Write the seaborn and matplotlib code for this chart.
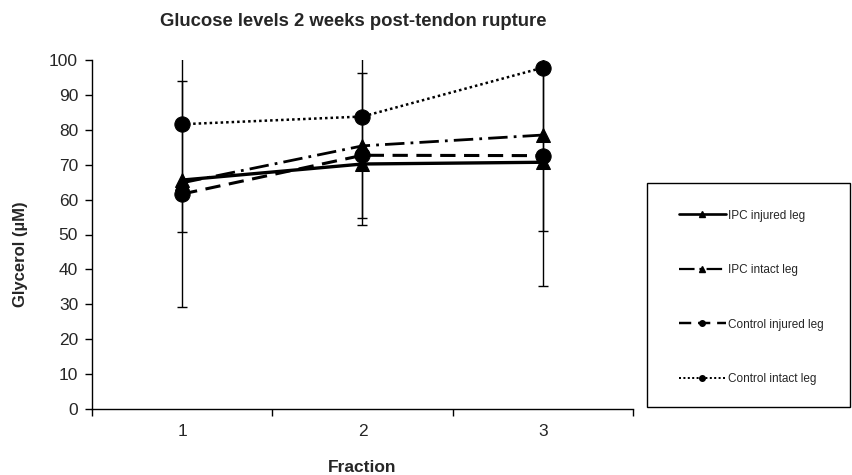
import matplotlib
matplotlib.use("Agg")
import matplotlib.pyplot as plt
from matplotlib.lines import Line2D
from matplotlib.patches import Rectangle
import numpy as np
import pandas as pd
import seaborn as sns

# values
FRACTIONS = [1, 2, 3]
SERIES_NAMES = ["IPC injured leg", "IPC intact leg", "Control injured leg", "Control intact leg"]
IPC_INJURED = [65.6, 70.2, 70.7]
IPC_INTACT = [64.8, 75.4, 78.5]
CONTROL_INJURED = [61.6, 72.7, 72.6]
CONTROL_INTACT = [81.6, 83.8, 97.8]
IPC_INJURED_ERR = [0, 0, 0]
IPC_INTACT_ERR = [0, 20.8, 27.4]
CONTROL_INJURED_ERR = [32.4, 0, 37.3]
CONTROL_INTACT_ERR = [30.9, 31.1, 0]
Y_TICKS = [0, 10, 20, 30, 40, 50, 60, 70, 80, 90, 100]

VALUES = [IPC_INJURED, IPC_INTACT, CONTROL_INJURED, CONTROL_INTACT]
ERRORS = [IPC_INJURED_ERR, IPC_INTACT_ERR, CONTROL_INJURED_ERR, CONTROL_INTACT_ERR]

STYLES = {
    "IPC injured leg": dict(ls="-", lw=2.4, marker="^", ms=10),
    "IPC intact leg": dict(ls=(0, (7, 2.2, 1, 2.2)), lw=2.0, marker="^", ms=10),
    "Control injured leg": dict(ls=(0, (5, 2.8)), lw=2.2, marker="o", ms=11),
    "Control intact leg": dict(ls=(0, (1, 1.2)), lw=1.8, marker="o", ms=11),
}


def main() -> None:
    sns.set_theme(style="white")
    plt.rcParams["font.family"] = ["Liberation Sans", "DejaVu Sans"]

    df = pd.DataFrame(
        {
            "fraction": np.tile(FRACTIONS, len(SERIES_NAMES)),
            "glycerol": np.concatenate(VALUES),
            "err": np.concatenate(ERRORS),
            "series": np.repeat(SERIES_NAMES, len(FRACTIONS)),
        }
    )

    fig = plt.figure(figsize=(8.53, 4.75), dpi=100)
    ax = fig.add_axes([92 / 853, 1 - 409 / 475, (633 - 92) / 853, (409 - 60) / 475])

    for name in SERIES_NAMES:
        sub = df[df["series"] == name]
        st = STYLES[name]
        has_err = sub[sub["err"] > 0]
        if len(has_err):
            ax.errorbar(
                has_err["fraction"], has_err["glycerol"], yerr=has_err["err"],
                fmt="none", ecolor="black", elinewidth=1.0, capsize=3.5, capthick=1.0, zorder=2,
            )
        sns.lineplot(
            data=sub, x="fraction", y="glycerol", ax=ax, color="black",
            linestyle=st["ls"], linewidth=st["lw"], marker=st["marker"], markersize=st["ms"],
            markeredgecolor="black", markerfacecolor="black", legend=False, zorder=3,
        )

    ax.set_xlim(0.5, 3.5)
    ax.set_ylim(0, 100)
    ax.set_yticks(Y_TICKS)
    ax.set_xticks(FRACTIONS)
    ax.set_xticks([0.5, 1.5, 2.5, 3.5], minor=True)
    ax.tick_params(axis="x", which="major", length=0, labelsize=12.5, pad=11)
    ax.tick_params(axis="x", which="minor", length=5, width=1, direction="out", color="black", bottom=True)
    ax.tick_params(axis="y", length=5, width=1, direction="out", color="black", labelsize=12.5, left=True, pad=5)
    for side in ["top", "right"]:
        ax.spines[side].set_visible(False)
    for side in ["left", "bottom"]:
        ax.spines[side].set_color("black")
        ax.spines[side].set_linewidth(1.0)
    ax.set_xlabel("Fraction", fontsize=12.5, fontweight="bold")
    ax.set_ylabel("Glycerol (\u00b5M)", fontsize=12, fontweight="bold")
    ax.xaxis.set_label_coords(0.5, (409 - 468) / 349, transform=ax.transAxes)
    ax.yaxis.set_label_coords((21 - 92) / 541, (409 - 254) / 349, transform=ax.transAxes)
    ax.xaxis.label.set_va("center")
    ax.yaxis.label.set_va("center")
    ax.grid(False)

    fig.text(353 / 853, 1 - 22 / 475, "Glucose levels 2 weeks post-tendon rupture",
             ha="center", va="center", fontsize=13.3, fontweight="bold")

    # legend box
    fig.patches.append(Rectangle((647 / 853, 1 - 407 / 475), (850 - 647) / 853, (407 - 183) / 475,
                                 transform=fig.transFigure, fill=False, edgecolor="black", linewidth=1.0))
    handles = []
    for name in SERIES_NAMES:
        st = STYLES[name]
        handles.append(Line2D([0], [0], color="black", linestyle=st["ls"], linewidth=st["lw"] * 0.8,
                              marker=st["marker"], markersize=4))
    fig.legend(handles, SERIES_NAMES, loc="upper left", bbox_to_anchor=(668 / 853, 1 - 199 / 475),
               frameon=False, fontsize=8.5, handlelength=4.0, handletextpad=0.2, labelspacing=3.6)

    fig.savefig("out.png", dpi=100)
    plt.close(fig)


if __name__ == "__main__":
    main()
